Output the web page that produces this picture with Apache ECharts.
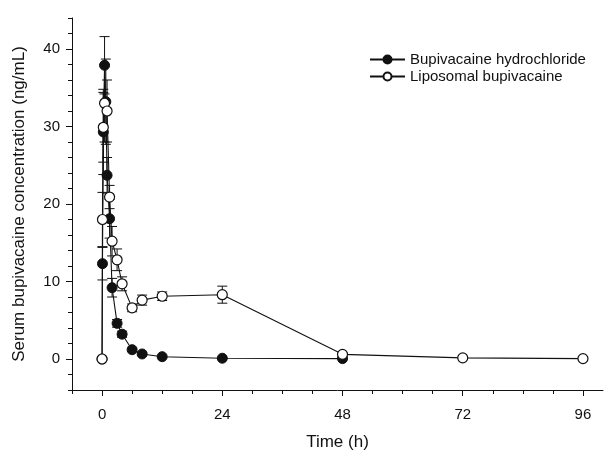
<!DOCTYPE html>
<html>
<head>
<meta charset="utf-8">
<script src="https://cdn.jsdelivr.net/npm/echarts@6/dist/echarts.min.js"></script>
<style>
  html, body { margin: 0; padding: 0; background: #fff; }
  #chart { width: 608px; height: 456px; }
</style>
</head>
<body>
<div id="chart"></div>
<script>
  // sampling times (h) and mean +/- SD serum concentration (ng/mL)
  const hclTimes = [0, 0.083, 0.25, 0.5, 0.75, 1, 1.5, 2, 3, 4, 6, 8, 12, 24, 48];
  const hclMean = [0, 12.3, 29.3, 37.9, 33.2, 23.7, 18.1, 9.2, 4.6, 3.2, 1.2, 0.65, 0.3, 0.1, 0.05];
  const hclSd = [0, 2.1, 5.5, 3.7, 5.5, 2.3, 2.5, 1.2, 0.5, 0.4, 0.2, 0.15, 0.1, 0.05, 0.03];

  const lipoTimes = [0, 0.083, 0.25, 0.5, 1, 1.5, 2, 3, 4, 6, 8, 12, 24, 48, 72, 96];
  const lipoMean = [0, 18.0, 29.9, 33.0, 32.0, 20.9, 15.2, 12.8, 9.7, 6.6, 7.6, 8.1, 8.3, 0.6, 0.15, 0.05];
  const lipoSd = [0, 3.5, 4.5, 5.0, 4.0, 1.5, 1.9, 1.4, 0.9, 0.5, 0.65, 0.55, 1.1, 0.25, 0.08, 0.05];

  const xLabels = [0, 24, 48, 72, 96];
  const xMinorTicks = [-6, 0, 6, 12, 18, 24, 30, 36, 42, 48, 54, 60, 66, 72, 78, 84, 90, 96];
  const yLabels = [0, 10, 20, 30, 40];
  const yMinorTicks = [-4, -2, 0, 2, 4, 6, 8, 10, 12, 14, 16, 18, 20, 22, 24, 26, 28, 30, 32, 34, 36, 38, 40, 42, 44];

  const FONT = '"Liberation Sans", Arial, sans-serif';
  const INK = '#111';

  function pairs(xs, ys) { return xs.map((x, i) => [x, ys[i]]); }
  function triples(xs, ys, sd) { return xs.map((x, i) => [x, ys[i], sd[i]]); }

  function errorBars(params, api) {
    const t = api.value(0), m = api.value(1), s = api.value(2);
    if (!s) return null;
    const hi = api.coord([t, m + s]);
    const lo = api.coord([t, m - s]);
    const w = 5;
    const style = { stroke: INK, lineWidth: 1 };
    return {
      type: 'group',
      children: [
        { type: 'line', shape: { x1: hi[0], y1: hi[1], x2: lo[0], y2: lo[1] }, style },
        { type: 'line', shape: { x1: hi[0] - w, y1: hi[1], x2: hi[0] + w, y2: hi[1] }, style },
        { type: 'line', shape: { x1: lo[0] - w, y1: lo[1], x2: lo[0] + w, y2: lo[1] }, style }
      ]
    };
  }

  const xBase = { type: 'value', min: -6, max: 100, gridIndex: 0, position: 'bottom' };
  const yBase = { type: 'value', min: -4, max: 44, gridIndex: 0, position: 'left' };

  const option = {
    animation: false,
    backgroundColor: '#fff',
    grid: { left: 72, right: 5, top: 18, bottom: 63 },
    legend: {
      orient: 'vertical',
      left: 369,
      top: 52,
      padding: 0,
      itemWidth: 35,
      itemHeight: 10,
      itemGap: 2,
      textStyle: { fontFamily: FONT, fontSize: 15, color: INK },
      data: ['Bupivacaine hydrochloride', 'Liposomal bupivacaine']
    },
    xAxis: [
      Object.assign({}, xBase, {
        name: 'Time (h)',
        nameLocation: 'middle',
        nameGap: 44,
        nameTextStyle: { fontFamily: FONT, fontSize: 17, color: INK },
        axisLine: { onZero: false, lineStyle: { color: INK, width: 1 } },
        axisTick: { show: true, length: 4, lineStyle: { color: INK }, customValues: xMinorTicks },
        axisLabel: { fontFamily: FONT, fontSize: 15, color: INK, margin: 17, customValues: xLabels },
        splitLine: { show: false }
      }),
      Object.assign({}, xBase, {
        axisLine: { show: false, onZero: false },
        axisTick: { show: true, length: 6, lineStyle: { color: INK }, customValues: xLabels },
        axisLabel: { show: false },
        splitLine: { show: false }
      })
    ],
    yAxis: [
      Object.assign({}, yBase, {
        name: 'Serum bupivacaine concentration (ng/mL)',
        nameLocation: 'middle',
        nameGap: 44,
        nameTextStyle: { fontFamily: FONT, fontSize: 17, color: INK },
        axisLine: { onZero: false, lineStyle: { color: INK, width: 1 } },
        axisTick: { show: true, length: 4, lineStyle: { color: INK }, customValues: yMinorTicks },
        axisLabel: { fontFamily: FONT, fontSize: 15, color: INK, margin: 12, customValues: yLabels },
        splitLine: { show: false }
      }),
      Object.assign({}, yBase, {
        axisLine: { show: false, onZero: false },
        axisTick: { show: true, length: 6, lineStyle: { color: INK }, customValues: yLabels },
        axisLabel: { show: false },
        splitLine: { show: false }
      })
    ],
    series: [
      {
        type: 'custom',
        renderItem: errorBars,
        data: triples(hclTimes, hclMean, hclSd),
        encode: { x: 0, y: 1 },
        z: 1,
        silent: true
      },
      {
        type: 'custom',
        renderItem: errorBars,
        data: triples(lipoTimes, lipoMean, lipoSd),
        encode: { x: 0, y: 1 },
        z: 1,
        silent: true
      },
      {
        name: 'Bupivacaine hydrochloride',
        type: 'line',
        data: pairs(hclTimes, hclMean),
        symbol: 'circle',
        symbolSize: 10,
        showAllSymbol: true,
        lineStyle: { color: INK, width: 1.1 },
        itemStyle: { color: INK, borderColor: INK, borderWidth: 1 },
        z: 2
      },
      {
        name: 'Liposomal bupivacaine',
        type: 'line',
        data: pairs(lipoTimes, lipoMean),
        symbol: 'circle',
        symbolSize: 10,
        showAllSymbol: true,
        lineStyle: { color: INK, width: 1.1 },
        itemStyle: { color: '#fff', borderColor: INK, borderWidth: 1.2 },
        z: 3
      }
    ]
  };

  const chart = echarts.init(document.getElementById('chart'));
  chart.setOption(option);
</script>
</body>
</html>
